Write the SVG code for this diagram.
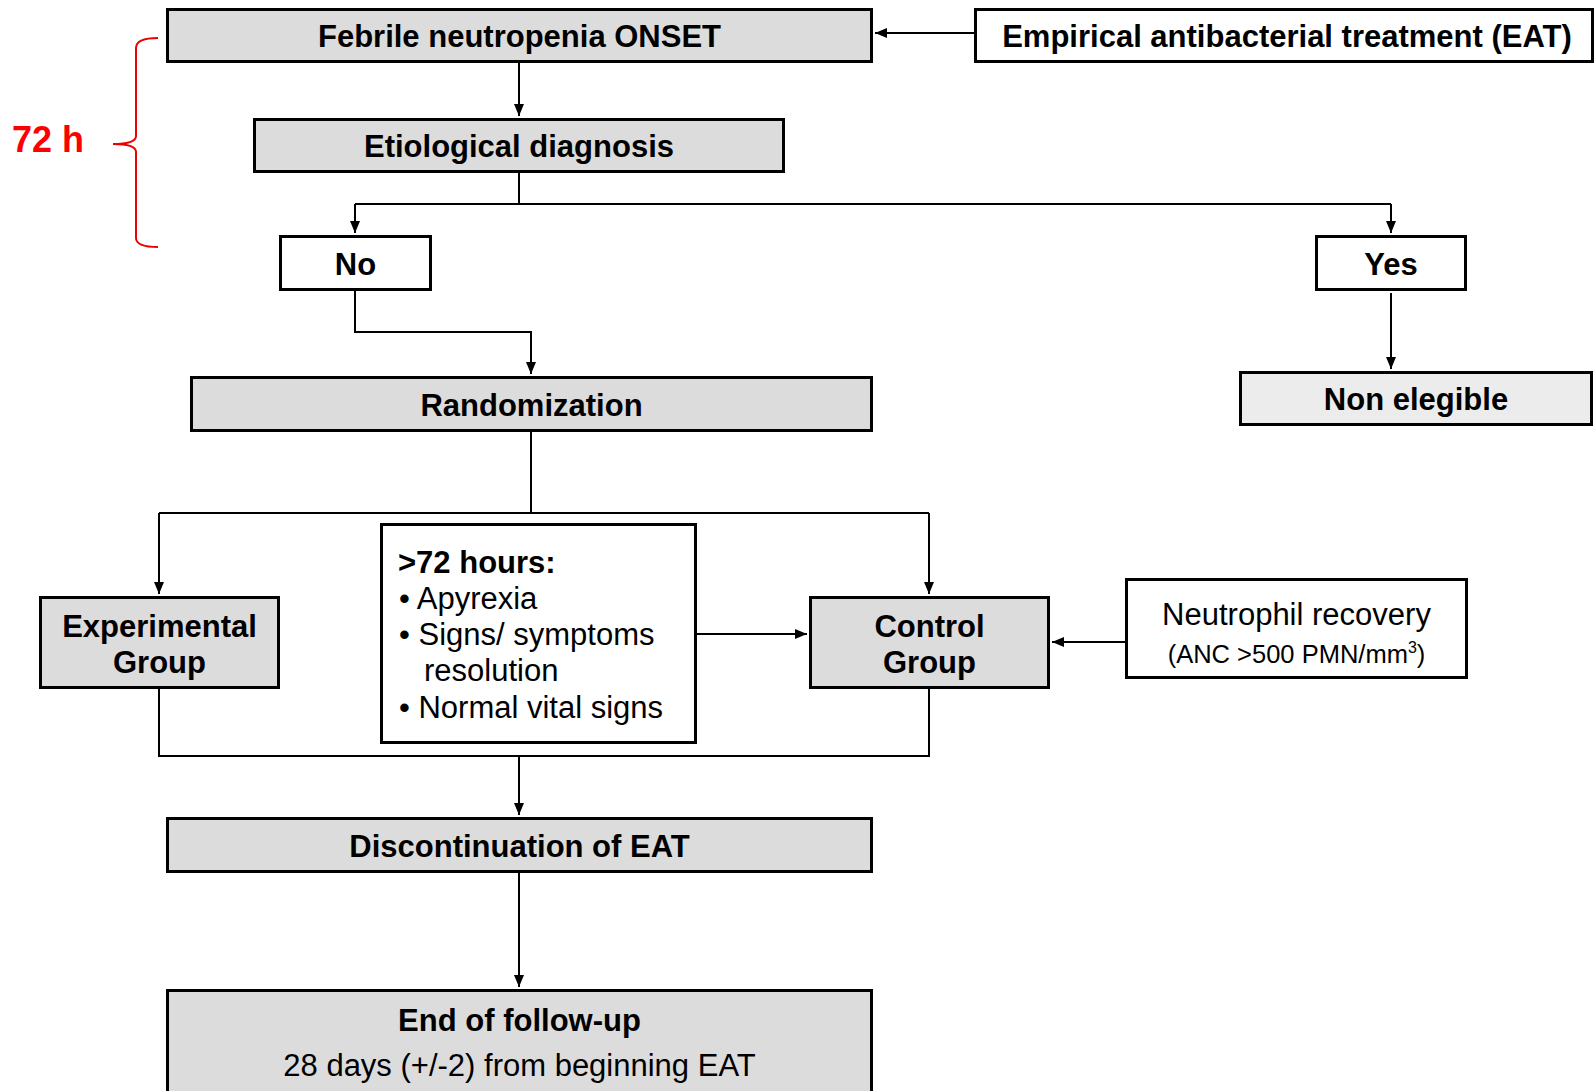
<svg xmlns="http://www.w3.org/2000/svg" width="1596" height="1091" viewBox="0 0 1596 1091">
<defs>
<marker id="ah" markerUnits="userSpaceOnUse" markerWidth="12" markerHeight="10" refX="12" refY="5" orient="auto">
<path d="M0,0 L12,5 L0,10 Z" fill="#000"/>
</marker>
<style>
.box{stroke:#000;stroke-width:3}
.g{fill:#dcdcdc}
.lg{fill:#ececec}
.w{fill:#fff}
.b{font-family:"Liberation Sans",Arial,sans-serif;font-weight:bold;font-size:31px;fill:#000}
.r{font-family:"Liberation Sans",Arial,sans-serif;font-size:31px;fill:#000}
.c{text-anchor:middle}
.con{fill:none;stroke:#000;stroke-width:2}
.arr{marker-end:url(#ah)}
</style>
</defs>
<rect width="1596" height="1091" fill="#fff"/>

<g id="bracket">
<path d="M158,38 Q136,38 136,48 L136,136 Q136,144 113,144 Q136,144 136,152 L136,238 Q136,247 158,247" fill="none" stroke="#e00" stroke-width="2"/>
<text x="12" y="152" font-family="Liberation Sans,Arial,sans-serif" font-weight="bold" font-size="36" fill="#f00">72 h</text>
</g>

<g id="connectors">
<path class="con arr" d="M974,33 L875,33"/>
<path class="con arr" d="M519,63 L519,116"/>
<path class="con" d="M519,173 L519,204 M355,204 L1391,204"/>
<path class="con arr" d="M355,204 L355,233"/>
<path class="con arr" d="M1391,204 L1391,233"/>
<path class="con arr" d="M1391,293 L1391,369"/>
<path class="con arr" d="M355,291 L355,332 L531,332 L531,374"/>
<path class="con" d="M531,432 L531,513 M159,513 L929,513"/>
<path class="con arr" d="M159,513 L159,594"/>
<path class="con arr" d="M929,513 L929,594"/>
<path class="con arr" d="M697,634 L807,634"/>
<path class="con arr" d="M1125,642 L1052,642"/>
<path class="con" d="M159,689 L159,756 L929,756 L929,689"/>
<path class="con arr" d="M519,756 L519,815"/>
<path class="con arr" d="M519,873 L519,987"/>
</g>

<g id="onset">
<rect class="box g" x="167.5" y="9.5" width="704" height="52"/>
<text class="b c" x="519.5" y="46.5">Febrile neutropenia ONSET</text>
</g>
<g id="eat">
<rect class="box w" x="975.5" y="9.5" width="617" height="52"/>
<text class="b c" x="1287" y="46.5">Empirical antibacterial treatment (EAT)</text>
</g>
<g id="etiological">
<rect class="box g" x="254.5" y="119.5" width="529" height="52"/>
<text class="b c" x="519" y="156.5">Etiological diagnosis</text>
</g>
<g id="no">
<rect class="box w" x="280.5" y="236.5" width="150" height="53"/>
<text class="b c" x="355.5" y="274.5">No</text>
</g>
<g id="yes">
<rect class="box w" x="1316.5" y="236.5" width="149" height="53"/>
<text class="b c" x="1391" y="274.5">Yes</text>
</g>
<g id="nonelegible">
<rect class="box lg" x="1240.5" y="372.5" width="351" height="52"/>
<text class="b c" x="1416" y="409.5">Non elegible</text>
</g>
<g id="randomization">
<rect class="box g" x="191.5" y="377.5" width="680" height="53"/>
<text class="b c" x="531.5" y="415.5">Randomization</text>
</g>
<g id="experimental">
<rect class="box g" x="40.5" y="597.5" width="238" height="90"/>
<text class="b c" x="159.5" y="636.5">Experimental</text>
<text class="b c" x="159.5" y="672.5">Group</text>
</g>
<g id="criteria">
<rect class="box w" x="381.5" y="524.5" width="314" height="218"/>
<text class="b" x="398" y="573">&gt;72 hours:</text>
<text class="r" x="399" y="609">• Apyrexia</text>
<text class="r" x="399" y="645">• Signs/ symptoms</text>
<text class="r" x="424" y="681">resolution</text>
<text class="r" x="399" y="718">• Normal vital signs</text>
</g>
<g id="control">
<rect class="box g" x="810.5" y="597.5" width="238" height="90"/>
<text class="b c" x="929.5" y="636.5">Control</text>
<text class="b c" x="929.5" y="672.5">Group</text>
</g>
<g id="neutrophil">
<rect class="box w" x="1126.5" y="579.5" width="340" height="98"/>
<text class="r c" x="1296.5" y="625">Neutrophil recovery</text>
<text class="r c" x="1296.5" y="663" style="font-size:25.5px">(ANC &gt;500 PMN/mm<tspan style="font-size:16px" dy="-10">3</tspan><tspan dy="10">)</tspan></text>
</g>
<g id="discontinuation">
<rect class="box g" x="167.5" y="818.5" width="704" height="53"/>
<text class="b c" x="519.5" y="856.5">Discontinuation of EAT</text>
</g>
<g id="end">
<rect class="box g" x="167.5" y="990.5" width="704" height="104"/>
<text class="b c" x="519.5" y="1030.5">End of follow-up</text>
<text class="r c" x="519.5" y="1075.5">28 days (+/-2) from beginning EAT</text>
</g>
</svg>
